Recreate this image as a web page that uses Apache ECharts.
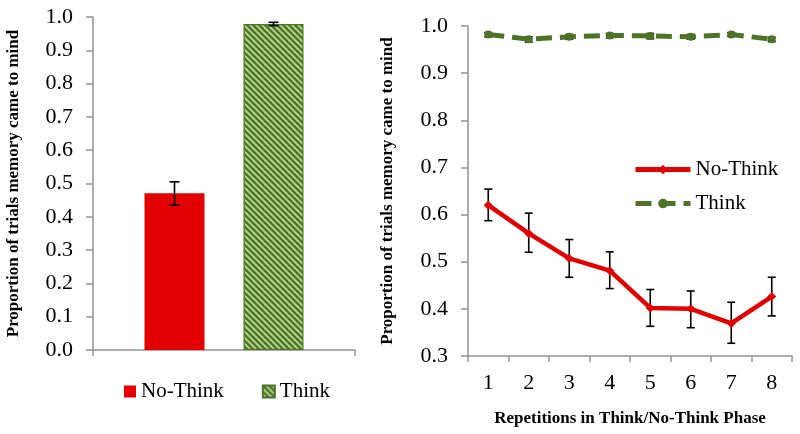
<!DOCTYPE html>
<html><head><meta charset="utf-8">
<script src="https://cdn.jsdelivr.net/npm/echarts@6/dist/echarts.min.js"></script>
<style>html,body{margin:0;padding:0;background:#fff}#c{width:800px;height:434px}</style>
</head><body><div id="c"></div>
<script>
// ---- data ----
const barSeriesNames = ['No-Think', 'Think'];
const barMeans = [0.471, 0.979];
const barErrLow = [0.435, 0.974];
const barErrHigh = [0.505, 0.984];

const reps = ['1', '2', '3', '4', '5', '6', '7', '8'];
const noThink = [0.620, 0.560, 0.507, 0.481, 0.402, 0.400, 0.369, 0.426];
const noThinkLow = [0.587, 0.520, 0.467, 0.443, 0.363, 0.360, 0.327, 0.385];
const noThinkHigh = [0.654, 0.603, 0.547, 0.521, 0.441, 0.438, 0.414, 0.467];
const think = [0.982, 0.972, 0.977, 0.980, 0.979, 0.977, 0.982, 0.972];
const thinkLow = [0.977, 0.966, 0.972, 0.975, 0.973, 0.972, 0.978, 0.967];
const thinkHigh = [0.986, 0.977, 0.982, 0.984, 0.984, 0.982, 0.986, 0.976];

const yTitle = 'Proportion of trials memory came to mind';
const xTitleRight = 'Repetitions in Think/No-Think Phase';

// ---- styles ----
const RED = '#e30000';
const GREEN_D = '#4d7426';
const GREEN_L = '#b2d68a';
const AX = '#929292';
const FONT = 'Liberation Serif';

function hatch() {
  const c = document.createElement('canvas');
  c.width = 6; c.height = 6;
  const g = c.getContext('2d');
  g.fillStyle = GREEN_L; g.fillRect(0, 0, 6, 6);
  g.strokeStyle = GREEN_D; g.lineWidth = 2.3;
  for (let x = -6; x <= 6; x += 6) {
    g.beginPath(); g.moveTo(x - 1, -1); g.lineTo(x + 7, 7); g.stroke();
  }
  return c;
}
const hatchPattern = { image: hatch(), repeat: 'repeat' };

function errRender(offsets, cap) {
  return function (params, api) {
    const x = api.value(0);
    const lo = api.coord([x, api.value(1)]);
    const hi = api.coord([x, api.value(2)]);
    const cx = lo[0] + offsets[api.value(3)];
    const style = { stroke: '#000', lineWidth: 1.6 };
    return {
      type: 'group', children: [
        { type: 'line', shape: { x1: cx, y1: lo[1], x2: cx, y2: hi[1] }, style },
        { type: 'line', shape: { x1: cx - cap, y1: lo[1], x2: cx + cap, y2: lo[1] }, style },
        { type: 'line', shape: { x1: cx - cap, y1: hi[1], x2: cx + cap, y2: hi[1] }, style }
      ]
    };
  };
}

const barErrData = barMeans.map((m, i) => [0, barErrLow[i], barErrHigh[i], i]);
const lineErrData = [];
reps.forEach((r, i) => {
  lineErrData.push([i, noThinkLow[i], noThinkHigh[i], 0]);
  lineErrData.push([i, thinkLow[i], thinkHigh[i], 0]);
});

const axisLineStyle = { show: true, lineStyle: { color: AX, width: 1.5 } };
const labelStyle = { color: '#000', fontFamily: FONT, fontSize: 22 };
const nameStyle = { color: '#000', fontFamily: FONT, fontSize: 17, fontWeight: 'bold' };

const chart = echarts.init(document.getElementById('c'), null, { renderer: 'canvas' });
chart.setOption({
  animation: false,
  backgroundColor: '#fff',
  textStyle: { fontFamily: FONT },
  grid: [
    { left: 93, top: 17, width: 262, height: 333 },
    { left: 468, top: 26, width: 324, height: 330 }
  ],
  xAxis: [
    {
      gridIndex: 0, type: 'category', data: [''],
      axisLine: axisLineStyle,
      axisTick: { show: true, length: 6, lineStyle: { color: AX, width: 1.5 } },
      axisLabel: { show: false }
    },
    {
      gridIndex: 1, type: 'category', data: reps,
      axisLine: axisLineStyle,
      axisTick: { show: true, length: 6, interval: 0, lineStyle: { color: AX, width: 1.5 } },
      axisLabel: Object.assign({ margin: 16, interval: 0 }, labelStyle),
      name: xTitleRight, nameLocation: 'middle', nameGap: 54, nameTextStyle: nameStyle
    }
  ],
  yAxis: [
    {
      gridIndex: 0, type: 'value', min: 0, max: 1, interval: 0.1,
      axisLine: axisLineStyle,
      axisTick: { show: true, length: 7, lineStyle: { color: AX, width: 1.5 } },
      splitLine: { show: false },
      axisLabel: Object.assign({ margin: 20, formatter: v => v.toFixed(1) }, labelStyle),
      name: yTitle, nameLocation: 'middle', nameGap: 71, nameTextStyle: nameStyle
    },
    {
      gridIndex: 1, type: 'value', min: 0.3, max: 1.0, interval: 0.1,
      axisLine: axisLineStyle,
      axisTick: { show: true, length: 7, lineStyle: { color: AX, width: 1.5 } },
      splitLine: { show: false },
      axisLabel: Object.assign({ margin: 20, formatter: v => v.toFixed(1) }, labelStyle),
      name: yTitle, nameLocation: 'middle', nameGap: 72, nameTextStyle: nameStyle
    }
  ],
  legend: [
    {
      data: barSeriesNames, left: 124, top: 381, padding: 0, itemWidth: 12, itemHeight: 12, itemGap: 38,
      icon: 'rect', textStyle: { color: '#000', fontFamily: FONT, fontSize: 21 }
    },
    {
      data: ['No-Think', 'Think'].map(n => ({ name: n + ' ' })), orient: 'vertical', left: 633, top: 159,
      padding: 0, itemWidth: 55, itemHeight: 12, itemGap: 13,
      lineStyle: { width: 5 },
      textStyle: { color: '#000', fontFamily: FONT, fontSize: 21 }
    }
  ],
  series: [
    {
      name: barSeriesNames[0], type: 'bar', xAxisIndex: 0, yAxisIndex: 0,
      data: [barMeans[0]], barWidth: 60, barGap: '65%',
      itemStyle: { color: RED }
    },
    {
      name: barSeriesNames[1], type: 'bar', xAxisIndex: 0, yAxisIndex: 0,
      data: [barMeans[1]], barWidth: 60, barGap: '65%',
      itemStyle: { color: hatchPattern, borderColor: GREEN_D, borderWidth: 1.2 }
    },
    {
      type: 'custom', xAxisIndex: 0, yAxisIndex: 0, z: 5,
      renderItem: errRender([-49.5, 49.5], 5), data: barErrData
    },
    {
      type: 'custom', xAxisIndex: 1, yAxisIndex: 1, z: 1,
      renderItem: errRender([0], 4), data: lineErrData
    },
    {
      name: 'No-Think ', type: 'line', xAxisIndex: 1, yAxisIndex: 1, z: 3,
      data: noThink, symbol: 'diamond', symbolSize: 9,
      lineStyle: { color: RED, width: 4.5 }, itemStyle: { color: RED }
    },
    {
      name: 'Think ', type: 'line', xAxisIndex: 1, yAxisIndex: 1, z: 3,
      data: think, symbol: 'circle', symbolSize: 8,
      lineStyle: { color: GREEN_D, width: 5, type: [16, 8] }, itemStyle: { color: GREEN_D }
    }
  ]
});
</script>
</body></html>
